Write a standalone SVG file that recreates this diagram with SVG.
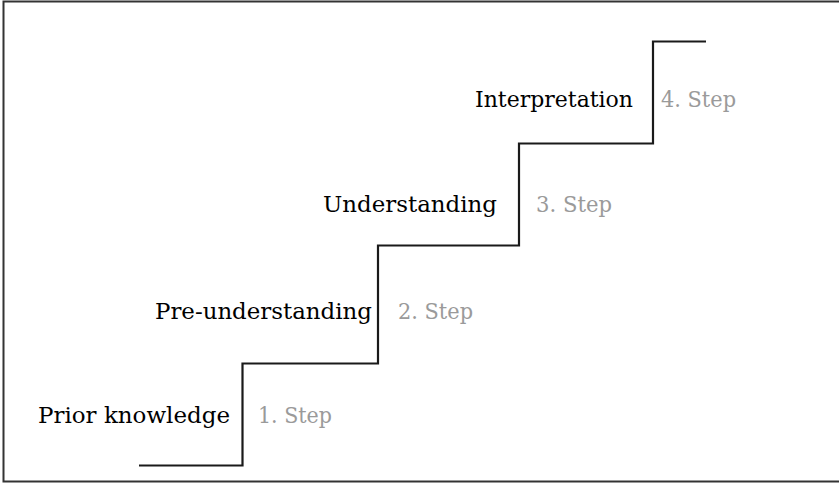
<svg xmlns="http://www.w3.org/2000/svg" width="839" height="485" viewBox="0 0 839 485">
<style>
.lbl{font-family:"DejaVu Serif","Liberation Serif",serif;font-size:22.5px;fill:#000}
.stp{font-family:"DejaVu Serif","Liberation Serif",serif;font-size:22.5px;fill:#9a9a9a}
.stair{fill:none;stroke:#1a1a1a;stroke-width:2.2}
</style>
<rect x="3.5" y="1.5" width="845" height="480" fill="#fff" stroke="#333" stroke-width="2"/>
<g id="connectors">
<path class="stair" d="M139,465.5 H242.5 V363.5 H378 V245.5 H519 V143.5 H653 V41.5 H706"/>
</g>
<g id="step1"><text class="lbl" x="38" y="423" textLength="192" lengthAdjust="spacingAndGlyphs">Prior knowledge</text><text class="stp" x="258" y="423" textLength="74" lengthAdjust="spacingAndGlyphs">1. Step</text></g>
<g id="step2"><text class="lbl" x="155" y="319" textLength="217" lengthAdjust="spacingAndGlyphs">Pre-understanding</text><text class="stp" x="398" y="319" textLength="75" lengthAdjust="spacingAndGlyphs">2. Step</text></g>
<g id="step3"><text class="lbl" x="323" y="212" textLength="174" lengthAdjust="spacingAndGlyphs">Understanding</text><text class="stp" x="536" y="212" textLength="76" lengthAdjust="spacingAndGlyphs">3. Step</text></g>
<g id="step4"><text class="lbl" x="475" y="107" textLength="158" lengthAdjust="spacingAndGlyphs">Interpretation</text><text class="stp" x="661" y="107" textLength="75" lengthAdjust="spacingAndGlyphs">4. Step</text></g>
</svg>
